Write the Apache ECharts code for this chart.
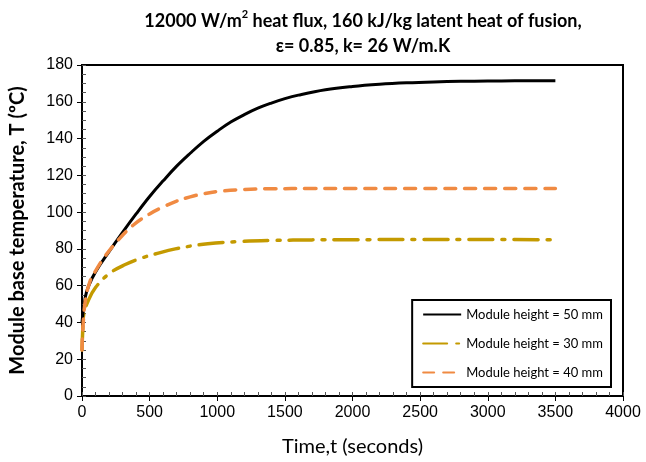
<!DOCTYPE html>
<html>
<head>
<meta charset="utf-8">
<script src="https://cdn.jsdelivr.net/npm/echarts@6/dist/echarts.min.js"></script>
<style>html,body{margin:0;padding:0;background:#fff}#c{width:646px;height:462px}</style>
</head>
<body>
<div id="c"></div>
<script>
// ---- data ----
const xTicks = [0, 500, 1000, 1500, 2000, 2500, 3000, 3500, 4000];
const yTicks = [0, 20, 40, 60, 80, 100, 120, 140, 160, 180];

const t50 = [0, 25, 50, 100, 200, 300, 400, 500, 600, 700, 800, 900, 1000, 1100, 1200, 1300, 1400, 1500, 1600, 1800, 2000, 2200, 2400, 2600, 2800, 3000, 3200, 3500];
const T50 = [40, 54, 60, 67.5, 78.5, 89, 99, 108.5, 117, 125, 132, 138.5, 144, 149, 153, 156.5, 159.3, 161.7, 163.6, 166.5, 168.3, 169.5, 170.3, 170.8, 171.1, 171.3, 171.4, 171.5];

const t30 = [0, 5, 12, 47, 100, 200, 320, 440, 540, 690, 930, 1170, 1420, 1700, 2000, 2500, 3000, 3500];
const T30 = [25, 35, 44, 52, 59, 66.5, 71.5, 75, 77.2, 80, 82.8, 84, 84.6, 84.9, 85, 85.1, 85.1, 85];

const t40 = [0, 5, 25, 60, 100, 170, 270, 380, 500, 600, 700, 800, 900, 1000, 1200, 1400, 1700, 2000, 2500, 3000, 3500];
const T40 = [25, 35, 52, 62.5, 68, 76, 85, 93, 99, 102.8, 106, 108.3, 110, 111.2, 112.3, 112.7, 112.8, 112.8, 112.8, 112.8, 112.8];

const names = ['Module height = 50 mm', 'Module height = 30 mm', 'Module height = 40 mm'];

const zip = (a, b) => a.map((v, i) => [v, b[i]]);
const font = 'Liberation Sans, Arial, sans-serif';
const tfont = 'Lato, Open Sans, sans-serif';

const chart = echarts.init(document.getElementById('c'), null, {renderer: 'canvas'});
chart.setOption({
  animation: false,
  backgroundColor: '#fff',
  title: {
    text: '12000 W/m{sup|2} heat flux, 160 kJ/kg latent heat of fusion,\nε= 0.85, k= 26 W/m.K',
    left: 358, textAlign: 'center', top: 4,
    textStyle: {
      fontFamily: tfont, fontSize: 18, fontWeight: 'bold', color: '#000', lineHeight: 25,
      rich: { sup: { fontFamily: tfont, fontSize: 11, fontWeight: 'bold', verticalAlign: 'top', padding: [0, 0, 9, 0], lineHeight: 25 } }
    }
  },
  grid: { left: 80, right: 23, top: 65, bottom: 63, show: true, borderColor: '#000', borderWidth: 2 },
  legend: {
    orient: 'vertical', right: 35, top: 300,
    data: names, itemWidth: 38, itemHeight: 14, itemGap: 16,
    borderColor: '#000', borderWidth: 2, padding: [8, 8, 8, 10],
    backgroundColor: '#fff',
    itemStyle: { opacity: 0 },
    textStyle: { fontFamily: tfont, fontSize: 13, color: '#000' }
  },
  xAxis: [{
    type: 'value', min: 0, max: 4000, interval: 500,
    name: 'Time,t (seconds)', nameLocation: 'middle', nameGap: 41,
    nameTextStyle: { fontFamily: tfont, fontSize: 20, color: '#000' },
    axisLine: { show: true, onZero: false, lineStyle: { color: '#000', width: 2 } },
    axisTick: { show: true, length: 5, lineStyle: { color: '#000' } },
    axisLabel: { fontFamily: font, fontSize: 16, color: '#000', margin: 9, formatter: v => String(v) },
    splitLine: { show: false }
  }, {
    type: 'value', min: 0, max: 4000, interval: 100, position: 'bottom', gridIndex: 0,
    axisLine: { show: false }, axisLabel: { show: false },
    axisTick: { show: true, inside: true, length: 4, lineStyle: { color: '#555' } },
    splitLine: { show: false }
  }],
  yAxis: [{
    type: 'value', min: 0, max: 180, interval: 20,
    name: 'Module base temperature, T (ºC)', nameLocation: 'middle', nameGap: 54,
    nameTextStyle: { fontFamily: tfont, fontSize: 20, fontWeight: 'bold', color: '#000' },
    axisLine: { show: true, onZero: false, lineStyle: { color: '#000', width: 2 } },
    axisTick: { show: true, length: 5, lineStyle: { color: '#000' } },
    axisLabel: { fontFamily: font, fontSize: 16, color: '#000', margin: 9, formatter: v => String(v) },
    splitLine: { show: false }
  }, {
    type: 'value', min: 0, max: 180, interval: 5, position: 'left',
    axisLine: { show: false }, axisLabel: { show: false },
    axisTick: { show: true, inside: true, length: 4, lineStyle: { color: '#555' } },
    splitLine: { show: false }
  }],
  series: [{
    name: names[0], type: 'line', data: zip(t50, T50), smooth: 0.4, symbol: 'none',
    lineStyle: { color: '#000', width: 3 }, itemStyle: { color: '#000' }, z: 3
  }, {
    name: names[1], type: 'line', data: zip(t30, T30), smooth: 0.4, symbol: 'none',
    lineStyle: { color: '#c49a00', width: 3.5, type: [24, 9, 3, 9], cap: 'round' }, itemStyle: { color: '#c49a00' }, z: 2
  }, {
    name: names[2], type: 'line', data: zip(t40, T40), smooth: 0.4, symbol: 'none',
    lineStyle: { color: '#f08a42', width: 3.5, type: [11, 9], cap: 'round' }, itemStyle: { color: '#f08a42' }, z: 4
  }]
});
</script>
</body>
</html>
